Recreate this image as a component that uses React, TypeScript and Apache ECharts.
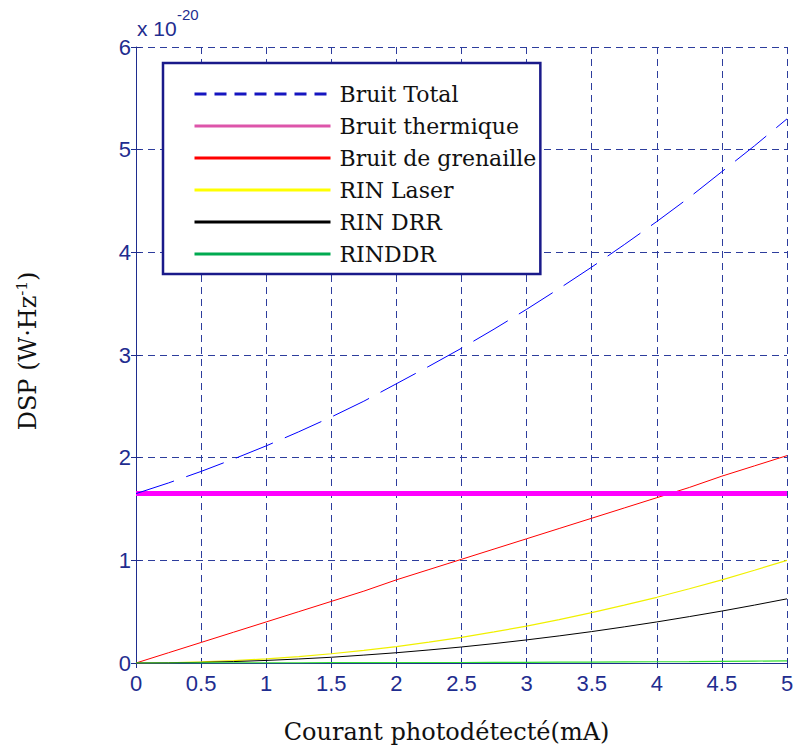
import React, { useEffect, useRef } from "react";
import * as echarts from "echarts";

const current = [0, 0.25, 0.5, 0.75, 1, 1.25, 1.5, 1.75, 2, 2.25, 2.5, 2.75, 3, 3.25, 3.5, 3.75, 4, 4.25, 4.5, 4.75, 5];
const bruitTotal = [1.65, 1.754, 1.866, 1.987, 2.115, 2.252, 2.396, 2.55, 2.72, 2.89, 3.066, 3.252, 3.445, 3.647, 3.856, 4.075, 4.3, 4.535, 4.786, 5.037, 5.3];
const bruitThermique = [1.65, 1.65, 1.65, 1.65, 1.65, 1.65, 1.65, 1.65, 1.65, 1.65, 1.65, 1.65, 1.65, 1.65, 1.65, 1.65, 1.65, 1.65, 1.65, 1.65, 1.65];
const bruitGrenaille = [0, 0.1, 0.2, 0.3, 0.4, 0.5, 0.6, 0.7, 0.81, 0.91, 1.01, 1.11, 1.21, 1.31, 1.41, 1.51, 1.61, 1.71, 1.82, 1.92, 2.02];
const rinLaser = [0, 0.0025, 0.01, 0.023, 0.04, 0.063, 0.09, 0.123, 0.16, 0.203, 0.25, 0.303, 0.36, 0.423, 0.49, 0.563, 0.64, 0.723, 0.81, 0.903, 1.0];
const rinDrr = [0, 0.0016, 0.006, 0.014, 0.025, 0.039, 0.056, 0.077, 0.1, 0.127, 0.156, 0.189, 0.225, 0.264, 0.306, 0.352, 0.4, 0.452, 0.506, 0.564, 0.625];
const rinDdr = [0, 0, 0.001, 0.001, 0.002, 0.002, 0.003, 0.003, 0.004, 0.005, 0.005, 0.006, 0.007, 0.008, 0.009, 0.01, 0.012, 0.013, 0.016, 0.019, 0.02];

const xTicks = [0, 0.5, 1, 1.5, 2, 2.5, 3, 3.5, 4, 4.5, 5];
const yTicks = [0, 1, 2, 3, 4, 5, 6];

const AXIS_COLOR = "#1f2d8f";
const GRID_COLOR = "#2d3d9d";
const SERIF = "'DejaVu Serif', serif";
const SANS = "'Liberation Sans', Arial, sans-serif";

const pairs = (ys: number[]) => current.map((x, i) => [x, ys[i]]);

export default function App() {
  const ref = useRef<HTMLDivElement>(null);
  useEffect(() => {
    document.body.style.margin = "0";
    if (!ref.current) return;
    const chart = echarts.init(ref.current, undefined, { renderer: "svg" });
    const fmtX = (v: number) => (xTicks.includes(v) ? String(v) : "");
    const fmtY = (v: number) => (yTicks.includes(v) ? String(v) : "");
    chart.setOption({
      animation: false,
      backgroundColor: "#ffffff",
      grid: { left: 136, right: 10, top: 47, bottom: 89, containLabel: false },
      xAxis: [
        {
          type: "value",
          min: 0,
          max: 5,
          interval: 0.5,
          position: "bottom",
          name: "Courant photodétecté(mA)",
          nameLocation: "middle",
          nameGap: 57,
          nameTextStyle: { fontFamily: SERIF, fontSize: 24, color: "#111", padding: [0, 30, 0, 0] },
          axisLine: { show: true, lineStyle: { color: AXIS_COLOR, width: 1 } },
          axisTick: { show: true, inside: true, length: 5, lineStyle: { color: AXIS_COLOR } },
          axisLabel: { formatter: fmtX, color: AXIS_COLOR, fontFamily: SANS, fontSize: 22, margin: 9 },
          splitLine: { show: true, lineStyle: { color: GRID_COLOR, type: [7, 5], width: 1 } },
        },
        {
          type: "value",
          min: 0,
          max: 5,
          interval: 0.5,
          position: "top",
          axisLine: { show: false },
          axisTick: { show: true, inside: true, length: 5, lineStyle: { color: AXIS_COLOR } },
          axisLabel: { show: false },
          splitLine: { show: false },
        },
      ],
      yAxis: [
        {
          type: "value",
          min: 0,
          max: 6,
          interval: 1,
          position: "left",
          name: "DSP (W·Hz{sup|-1})",
          nameLocation: "middle",
          nameRotate: 90,
          nameGap: 95,
          nameTextStyle: {
            fontFamily: SERIF,
            fontSize: 24,
            color: "#111",
            padding: [0, 0, 0, 8],
            rich: { sup: { fontFamily: SERIF, fontSize: 15, color: "#111", verticalAlign: "top", padding: [0, 0, 12, 0] } },
          },
          axisLine: { show: true, lineStyle: { color: AXIS_COLOR, width: 1 } },
          axisTick: { show: true, inside: true, length: 5, lineStyle: { color: AXIS_COLOR } },
          axisLabel: { formatter: fmtY, color: AXIS_COLOR, fontFamily: SANS, fontSize: 22, margin: 5 },
          splitLine: { show: true, lineStyle: { color: GRID_COLOR, type: [7, 5], width: 1 } },
        },
        {
          type: "value",
          min: 0,
          max: 6,
          interval: 1,
          position: "right",
          axisLine: { show: false },
          axisTick: { show: true, inside: true, length: 5, lineStyle: { color: AXIS_COLOR } },
          axisLabel: { show: false },
          splitLine: { show: false },
        },
      ],
      legend: {
        orient: "vertical",
        left: 163,
        top: 63,
        itemWidth: 136,
        itemHeight: 14,
        itemGap: 10,
        padding: [20, 4, 9, 30],
        borderColor: "#1a1a8a",
        borderWidth: 2.5,
        backgroundColor: "#ffffff",
        textStyle: { fontFamily: SERIF, fontSize: 22, color: "#111", padding: [0, 0, 0, 4] },
        data: [
          { name: "Bruit Total", lineStyle: { color: "#1515c0", width: 3, type: [12, 8] }, itemStyle: { opacity: 0 } },
          { name: "Bruit thermique", lineStyle: { color: "#dd55aa", width: 3, type: "solid" }, itemStyle: { opacity: 0 } },
          { name: "Bruit de grenaille", lineStyle: { color: "#ff0000", width: 3 }, itemStyle: { opacity: 0 } },
          { name: "RIN Laser", lineStyle: { color: "#ffff00", width: 3 }, itemStyle: { opacity: 0 } },
          { name: "RIN DRR", lineStyle: { color: "#000000", width: 3 }, itemStyle: { opacity: 0 } },
          { name: "RINDDR", lineStyle: { color: "#00aa50", width: 3 }, itemStyle: { opacity: 0 } },
        ],
      },
      graphic: [
        { type: "text", left: 137, top: 18, style: { text: "x 10", fontFamily: SANS, fontSize: 21, fill: AXIS_COLOR } },
        { type: "text", left: 177, top: 7, style: { text: "-20", fontFamily: SANS, fontSize: 15, fill: AXIS_COLOR } },
      ],
      series: [
        { name: "Bruit Total", type: "line", data: pairs(bruitTotal), symbol: "none", z: 5, lineStyle: { color: "#0000ff", width: 1, type: [40, 13] } },
        { name: "Bruit thermique", type: "line", data: pairs(bruitThermique), symbol: "none", z: 4, lineStyle: { color: "#ff00ff", width: 5 } },
        { name: "Bruit de grenaille", type: "line", data: pairs(bruitGrenaille), symbol: "none", z: 3, lineStyle: { color: "#ff0000", width: 1 } },
        { name: "RIN Laser", type: "line", data: pairs(rinLaser), symbol: "none", z: 3, lineStyle: { color: "#f0f000", width: 1.2 } },
        { name: "RIN DRR", type: "line", data: pairs(rinDrr), symbol: "none", z: 3, lineStyle: { color: "#000000", width: 1 } },
        { name: "RINDDR", type: "line", data: pairs(rinDdr), symbol: "none", z: 3, lineStyle: { color: "#33dd33", width: 1.2 } },
      ],
    });
    return () => chart.dispose();
  }, []);
  return <div ref={ref} style={{ width: 797, height: 752 }} />;
}
